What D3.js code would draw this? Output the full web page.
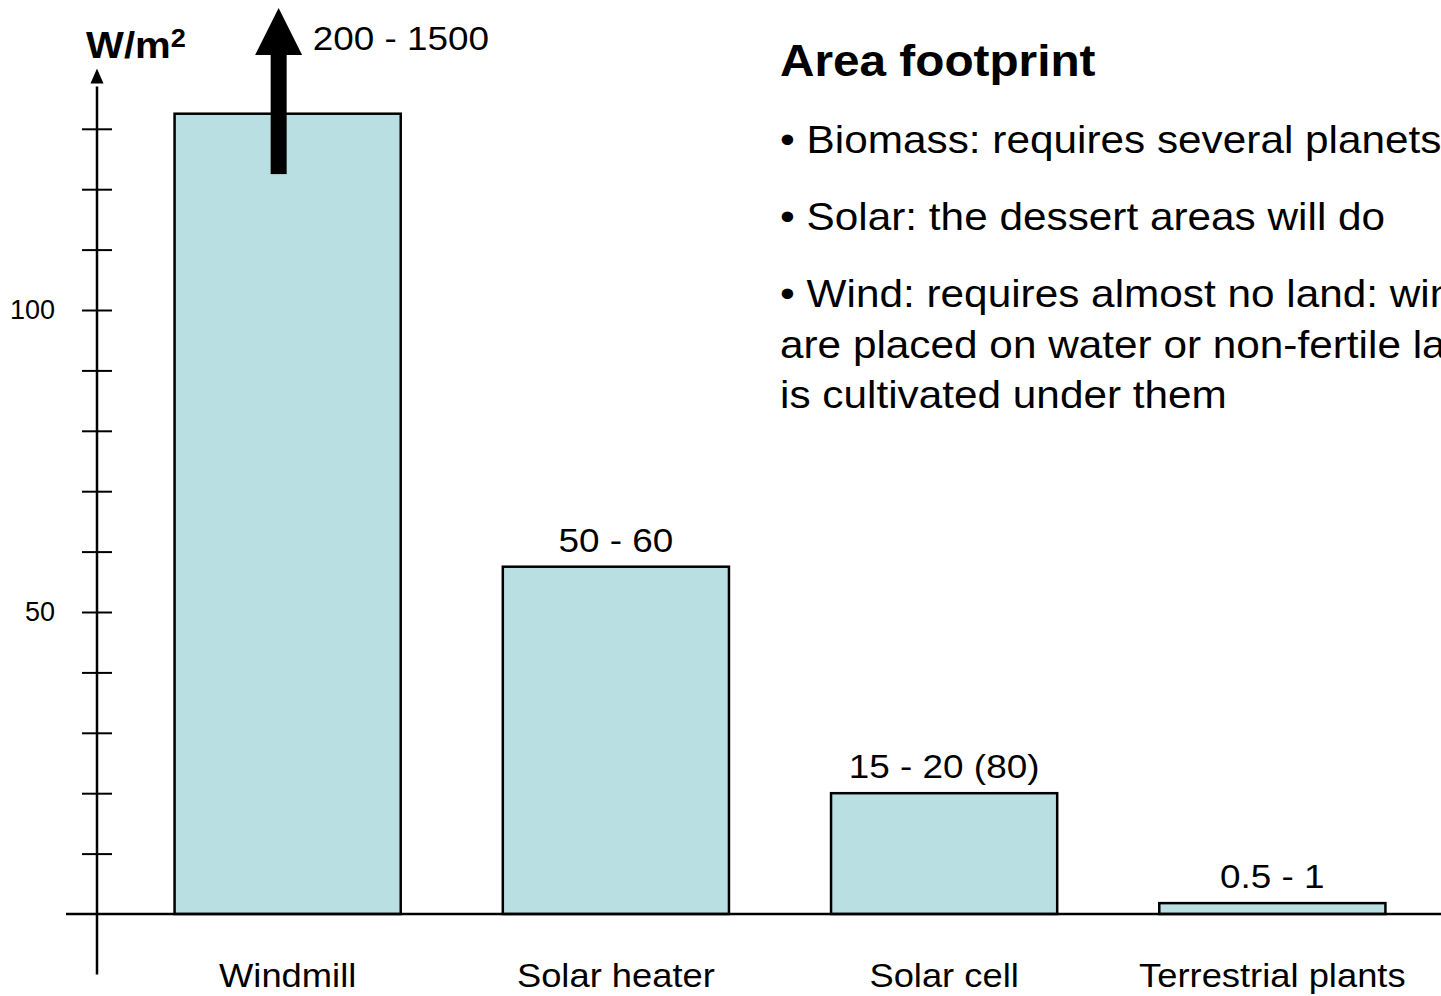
<!DOCTYPE html>
<html>
<head>
<meta charset="utf-8">
<script src="https://cdn.jsdelivr.net/npm/d3@7/dist/d3.min.js"></script>
<style>
  body { margin: 0; background: #fff; }
  svg { display: block; font-family: "Liberation Sans", Arial, sans-serif; }
</style>
</head>
<body>
<div id="chart"></div>
<script>
// values (W/m2 per technology)
const categories = ["Windmill", "Solar heater", "Solar cell", "Terrestrial plants"];
const barValues = [132.5, 57.5, 20, 1.8];
const rangeLabels = ["200 - 1500", "50 - 60", "15 - 20 (80)", "0.5 - 1"];
const yTicks = [10, 20, 30, 40, 50, 60, 70, 80, 90, 100, 110, 120, 130];
const yTickLabels = [50, 100];
const windArrow = [122.5, 150]; // arrow out of the windmill bar, goes off scale
const noteTitle = "Area footprint";
const noteLines = [
    ["• Biomass: requires several planets"],
    ["• Solar: the dessert areas will do"],
    ["• Wind: requires almost no land: windmills", "are placed on water or non-fertile land, or land", "is cultivated under them"]
];

const W = 1441, H = 996;
const sx = 1.085; // slide was stretched sideways a bit

let svg = d3.select("#chart").append("svg")
    .attr("width", W)
    .attr("height", H);

let y = d3.scaleLinear().domain([0, 140]).range([914, 68.4]);
let x = d3.scaleBand()
    .domain(categories)
    .range([72.5, 1487.5])
    .paddingInner(0.311)
    .paddingOuter(0.311);

function label(g, txt, px, py, size, anchor, bold) {
    return g.append("text")
        .attr("transform", `translate(${px},${py}) scale(${sx},1)`)
        .attr("text-anchor", anchor || "start")
        .attr("font-size", size)
        .attr("font-weight", bold ? "bold" : "normal")
        .attr("fill", "#000")
        .text(txt);
}

// bars
svg.selectAll("rect.bar")
    .data(barValues)
    .enter()
    .append("rect")
    .attr("class", "bar")
    .attr("x", (d, i) => x(categories[i]))
    .attr("width", x.bandwidth())
    .attr("y", d => y(d))
    .attr("height", d => y(0) - y(d))
    .attr("fill", "#b9dfe2")
    .attr("stroke", "#000")
    .attr("stroke-width", 2.5);

// baseline
svg.append("line")
    .attr("x1", 66).attr("x2", W)
    .attr("y1", y(0)).attr("y2", y(0))
    .attr("stroke", "#000").attr("stroke-width", 2.5);

// y axis with ticks crossing the line
let ax = svg.append("g")
    .attr("transform", "translate(97,0)")
    .call(d3.axisLeft(y)
        .tickValues(yTicks)
        .tickSize(15)
        .tickPadding(27)
        .tickFormat(d => yTickLabels.includes(d) ? d : ""));
ax.select(".domain").remove();
ax.selectAll(".tick line").attr("x1", 15).attr("stroke", "#000").attr("stroke-width", 2);
ax.selectAll(".tick text")
    .attr("font-size", 27)
    .attr("font-family", "Liberation Sans, Arial, sans-serif")
    .attr("fill", "#000");

svg.append("line")
    .attr("x1", 97).attr("x2", 97)
    .attr("y1", y(-10)).attr("y2", y(137))
    .attr("stroke", "#000").attr("stroke-width", 2.5);
svg.append("path")
    .attr("d", `M97,${y(140)} L103.5,${y(137.5)} L90.5,${y(137.5)} Z`)
    .attr("fill", "#000");

// unit label
let unit = svg.append("text")
    .attr("transform", `translate(86,58) scale(${sx},1)`)
    .attr("font-size", 37)
    .attr("font-weight", "bold");
unit.append("tspan").text("W/m");
unit.append("tspan").attr("font-size", 25).attr("dy", -11).text("2");

// big arrow coming out of the windmill bar
let ax0 = x(categories[0]) + x.bandwidth() / 2 - 9;
let headBase = y(windArrow[1]) + 47;
svg.append("rect")
    .attr("x", ax0 - 8).attr("width", 16)
    .attr("y", headBase).attr("height", y(windArrow[0]) - headBase)
    .attr("fill", "#000");
svg.append("path")
    .attr("d", `M${ax0},${y(windArrow[1])} L${ax0 + 23.5},${headBase} L${ax0 - 23.5},${headBase} Z`)
    .attr("fill", "#000");

// range labels
rangeLabels.forEach((t, i) => {
    if (i === 0) {
        label(svg, t, ax0 + 34, 50, 34, "start");
    } else {
        label(svg, t, x(categories[i]) + x.bandwidth() / 2, y(barValues[i]) - 15, 34, "middle");
    }
});

// category labels
categories.forEach(c => {
    label(svg, c, x(c) + x.bandwidth() / 2, 987, 33.5, "middle");
});

// notes block
label(svg, noteTitle, 780, 76, 44, "start", true);
let ly = 153;
noteLines.forEach(par => {
    par.forEach((t, j) => {
        label(svg, t, 780, ly, 39, "start");
        ly += (j < par.length - 1) ? 50.5 : 77;
    });
});
</script>
</body>
</html>
